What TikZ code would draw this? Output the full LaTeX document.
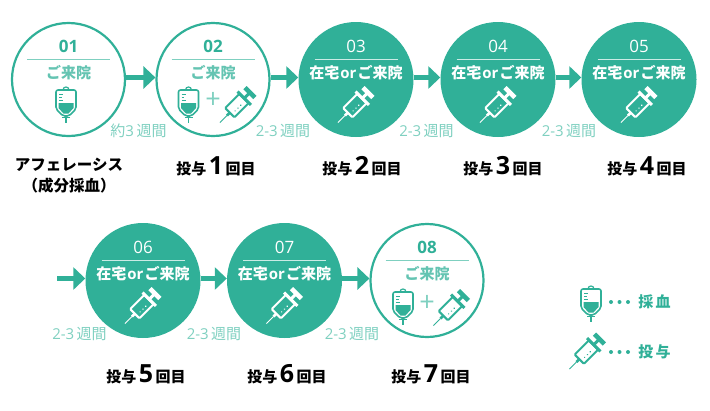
\documentclass[tikz,border=0pt]{standalone}
\usepackage{fontspec}
\setmainfont{Noto Sans CJK JP}
\newfontfamily\latinf{Open Sans}
\usetikzlibrary{arrows.meta}
\definecolor{tl}{HTML}{30B098}
\definecolor{tll}{HTML}{7FD0C0}
\tikzset{
 x=1pt,y=-1pt,
 ring/.style={circle,draw=tl,line width=2.2pt,fill=white,minimum size=113pt,inner sep=0pt},
 disc/.style={circle,fill=tl,minimum size=115pt,inner sep=0pt},
 numt/.style={font=\fontsize{17}{17}\selectfont\latinf,inner sep=0pt},
 vis/.style={font=\fontsize{15}{15}\selectfont\bfseries,inner sep=0pt},
 gap/.style={text=tll,font=\fontsize{15}{15}\selectfont,inner sep=0pt},
 dose/.style={font=\fontsize{15}{15}\selectfont\bfseries,inner sep=0pt},
 plus/.style={text=tll,font=\fontsize{27}{27}\selectfont\latinf,inner sep=0pt},
 flow/.style={draw=tl,line width=5pt,-{Triangle[length=12pt,width=22pt]}},
 pics/bag/.style={code={
  \draw[#1,line width=1.6pt,line join=round,rounded corners=2pt]
    (-10,-12) -- (10,-12) -- (10,7) -- (3,14) -- (-3,14) -- (-10,7) -- cycle;
  \fill[#1] (-7.5,1) -- (7.5,1) -- (7.5,6) -- (2.5,11.5) -- (-2.5,11.5) -- (-7.5,6) -- cycle;
  \draw[#1,line width=1.2pt] (-3,-12) .. controls (-3,-16) and (3,-16) .. (3,-12);
  \draw[#1,line width=1.6pt] (-4,15.5) -- (4,15.5);
  \draw[#1,line width=1.6pt] (0,15) -- (0,21);
  \draw[#1,line width=.8pt] (-7,-8) -- (-3,-8) (-7,-5) -- (-4.5,-5) (-7,-2) -- (-3,-2);
 }},
 pics/syr/.style={code={
  \begin{scope}[rotate=45]
   \draw[#1,line width=2pt,rounded corners=1pt] (-13,-6.5) rectangle (7,6.5);
   \draw[#1,line width=2.5pt] (-13,0) -- (-17,0);
   \draw[#1,line width=.9pt] (-17,0) -- (-27,0);
   \draw[#1,line width=3pt] (7.5,-9.5) -- (7.5,9.5);
   \draw[#1,line width=3pt] (7.5,0) -- (15,0);
   \draw[#1,line width=4.5pt] (15.5,-7) -- (15.5,7);
   \fill[#1] (-8,2.5) circle (.8) (-4,2.5) circle (.8) (0,2.5) circle (.8);
  \end{scope}
 }}
}
\newcommand{\ringstep}[3]{%
 \node[ring] (c#1) at (#2,#3) {};
 \node[numt,text=tl,font=\fontsize{17}{17}\selectfont\latinf\bfseries] (n#1) at (#2,#3-33.5) {#1};
 \draw[tll,line width=1pt] (#2-41.5,#3-20.5) -- (#2+41.5,#3-20.5);
 \node[vis,text=tl!75!white] (v#1) at (#2,#3-7) {ご来院};
}
\newcommand{\discstep}[3]{%
 \node[disc] (c#1) at (#2,#3) {};
 \node[numt,text=white] (n#1) at (#2,#3-33.5) {#1};
 \draw[white!75!tl,line width=1pt] (#2-41.5,#3-20.5) -- (#2+41.5,#3-20.5);
 \node[vis,text=white] (v#1) at (#2,#3-6.5) {在宅{\latinf\kern1pt or\kern1pt}ご来院};
 \pic at (#2+1,#3+24) {syr={white}};
}
\newcommand{\dosetxt}[1]{投与\,{\fontsize{25}{25}\selectfont\latinf\bfseries #1}\,回目}
\newcommand{\gaptxt}{{\latinf 2-3\,}週間}
\begin{document}
\begin{tikzpicture}
\useasboundingbox (0,0) rectangle (710,410);
\coordinate (start) at (57,278.5);
\ringstep{01}{68.5}{79.5}
\ringstep{02}{213}{79.5}
\discstep{03}{356}{79.5}
\discstep{04}{498}{79.5}
\discstep{05}{639}{79.5}
\discstep{06}{143}{280.5}
\discstep{07}{284.5}{280.5}
\ringstep{08}{427}{280.5}
\draw[flow] ([yshift=2pt]c01.east) -- ([yshift=2pt]c02.west);
\draw[flow] ([yshift=2pt]c02.east) -- ([yshift=2pt]c03.west);
\draw[flow] ([yshift=2pt]c03.east) -- ([yshift=2pt]c04.west);
\draw[flow] ([yshift=2pt]c04.east) -- ([yshift=2pt]c05.west);
\draw[flow] (start) -- ([yshift=2pt]c06.west);
\draw[flow] ([yshift=2pt]c06.east) -- ([yshift=2pt]c07.west);
\draw[flow] ([yshift=2pt]c07.east) -- ([yshift=2pt]c08.west);
% icons
\pic at (66,102) {bag={tl}};
\pic at (188.5,102) {bag={tl}};
\node[plus] (p1) at (213,100) {+};
\pic at (239,103.5) {syr={tl}};
\pic at (403,304) {bag={tl}};
\node[plus] (p2) at (427,303) {+};
\pic at (452.5,306.5) {syr={tl}};
% gaps
\node[gap] (g1) at (138.5,131) {約{\latinf 3\,}週間};
\node[gap] (g2) at (283,131) {\gaptxt};
\node[gap] (g3) at (426.5,131) {\gaptxt};
\node[gap] (g4) at (569,131) {\gaptxt};
\node[gap] (g5) at (79.5,334) {\gaptxt};
\node[gap] (g6) at (214,334) {\gaptxt};
\node[gap] (g7) at (352,334) {\gaptxt};
% dose labels
\node[dose,align=center,font=\fontsize{15.5}{21}\selectfont\bfseries] (d0) at (69,175.5) {アフェレーシス\\（成分採血）};
\node[dose] (d1) at (216,166) {\dosetxt{1}};
\node[dose] (d2) at (362,166) {\dosetxt{2}};
\node[dose] (d3) at (503,166) {\dosetxt{3}};
\node[dose] (d4) at (647,166) {\dosetxt{4}};
\node[dose] (d5) at (146,374) {\dosetxt{5}};
\node[dose] (d6) at (287,374) {\dosetxt{6}};
\node[dose] (d7) at (431,374) {\dosetxt{7}};
% legend
\pic at (591,301) {bag={tl}};
\pic at (588.5,350) {syr={tl}};
\fill[tl] (611,302) circle (2) (619.5,302) circle (2) (628,302) circle (2);
\fill[tl] (611,352) circle (2) (619.5,352) circle (2) (628,352) circle (2);
\node[text=tl,font=\fontsize{15}{15}\selectfont\bfseries,inner sep=0] (l3) at (654.5,302) {採\,血};
\node[text=tl,font=\fontsize{15}{15}\selectfont\bfseries,inner sep=0] (l4) at (654.5,352) {投\,与};
\end{tikzpicture}
\end{document}
